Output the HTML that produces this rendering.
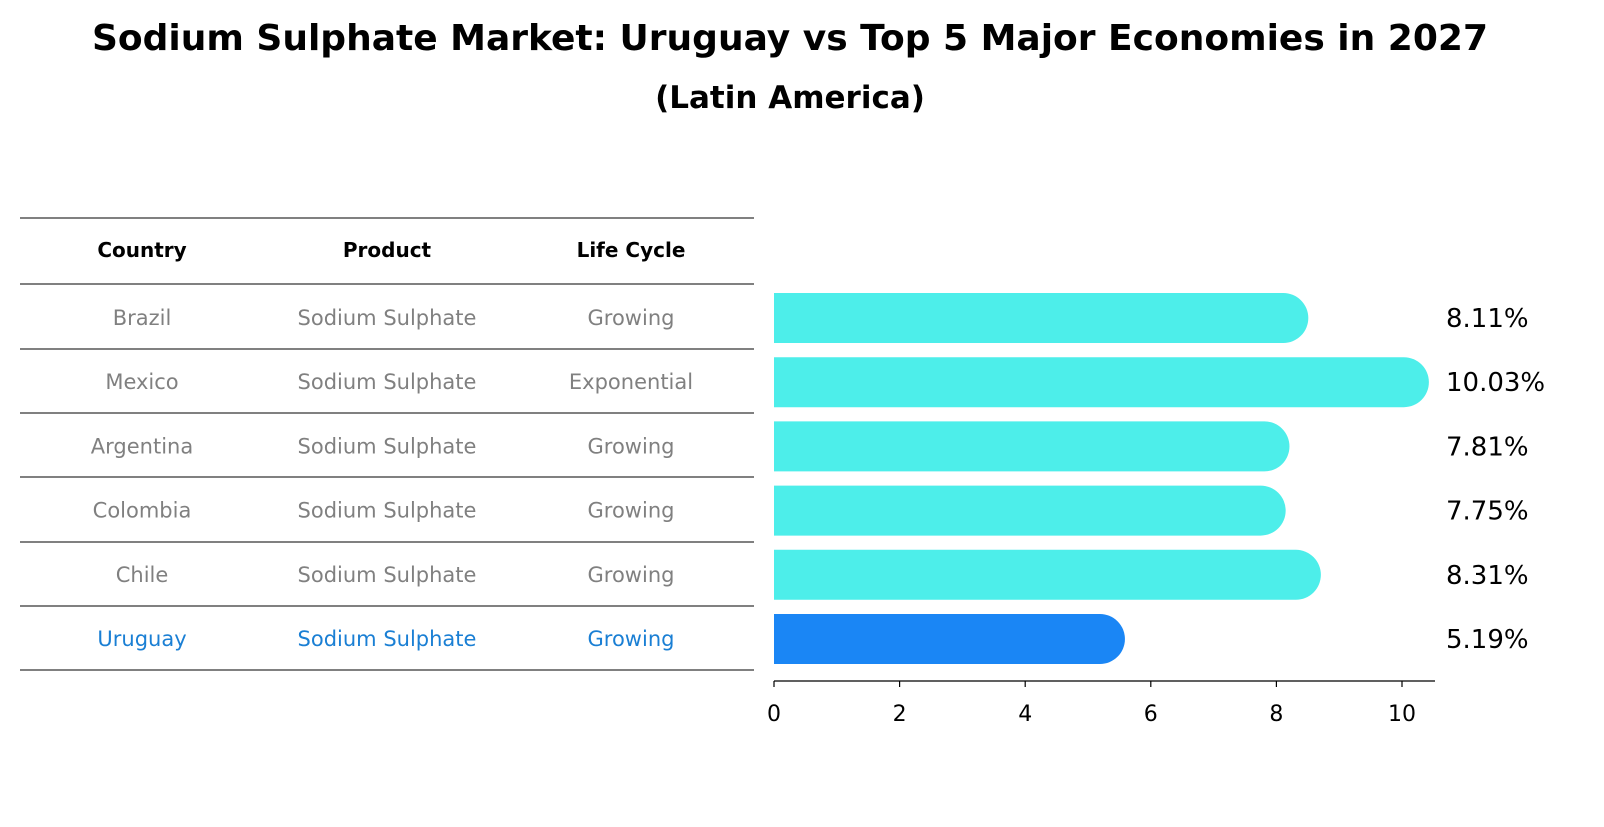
<!DOCTYPE html>
<html><head><meta charset="utf-8"><style>
body{margin:0;background:#fff;font-family:"DejaVu Sans","Liberation Sans",sans-serif}
svg text{font-family:"DejaVu Sans","Liberation Sans",sans-serif}
</style></head><body>
<svg id="chart" width="1604" height="823" viewBox="0 0 1604 823" xmlns="http://www.w3.org/2000/svg">
<text x="790" y="50" text-anchor="middle" font-size="36" font-weight="bold">Sodium Sulphate Market: Uruguay vs Top 5 Major Economies in 2027</text>
<text x="790" y="108" text-anchor="middle" font-size="31" font-weight="bold">(Latin America)</text>
<g id="table"></g>
<g id="bars"></g>
</svg>
<script>
const countries=["Brazil","Mexico","Argentina","Colombia","Chile","Uruguay"];
const products=["Sodium Sulphate","Sodium Sulphate","Sodium Sulphate","Sodium Sulphate","Sodium Sulphate","Sodium Sulphate"];
const lifeCycles=["Growing","Exponential","Growing","Growing","Growing","Growing"];
const growth=[8.11,10.03,7.81,7.75,8.31,5.19];
const tickValues=[0,2,4,6,8,10];

const NS="http://www.w3.org/2000/svg";
function mk(tag,attrs,parent,text){const e=document.createElementNS(NS,tag);for(const k in attrs)e.setAttribute(k,attrs[k]);if(text!==undefined)e.textContent=text;parent.appendChild(e);return e;}
const table=document.getElementById('table');
const bars=document.getElementById('bars');
const rowY=i=>318+i*64.2;
const colX=[142,387,631];
const lineYs=[218,284];
for(let i=0;i<countries.length;i++)lineYs.push(Math.round(rowY(i)+31));
lineYs.forEach(y=>{const l=mk('line',{x1:20,x2:754,y1:y,y2:y,stroke:'#000','stroke-width':1},table);

});
["Country","Product","Life Cycle"].forEach((h,j)=>{const t=mk('text',{x:colX[j],y:257,'text-anchor':'middle','font-size':20,'font-weight':'bold'},table,h);

});
countries.forEach((c,i)=>{
 const col=i===countries.length-1?'#1a7fd4':'#808080';
 [c,products[i],lifeCycles[i]].forEach((v,j)=>{const t=mk('text',{x:colX[j],y:rowY(i)+7,'text-anchor':'middle','font-size':21,fill:col},table,v);
 
 });
});
const x0=774,scale=62.8;
const xs=v=>x0+v*scale;
const ax=mk('line',{x1:774,x2:1435,y1:681,y2:681,stroke:'#000','stroke-width':1.3},bars);


tickValues.forEach(v=>{const t=mk('line',{x1:xs(v),x2:xs(v),y1:681,y2:687,stroke:'#000','stroke-width':1.2},bars);


const l=mk('text',{x:xs(v),y:721,'text-anchor':'middle','font-size':22},bars,String(v));

});
const h=50,r=25;
growth.forEach((g,i)=>{
 const yc=rowY(i),col=i===growth.length-1?'#1a86f5':'#4deeea';
 const xe=xs(g);
 const p=mk('path',{d:`M${x0},${yc-h/2} H${xe} A${r},${r} 0 0 1 ${xe},${yc+h/2} H${x0} Z`,fill:col},bars);
 
 
 const t=mk('text',{x:1446,y:yc+9,'font-size':26},bars,g.toFixed(2)+'%');
 
 
});
</script>
</body></html>
